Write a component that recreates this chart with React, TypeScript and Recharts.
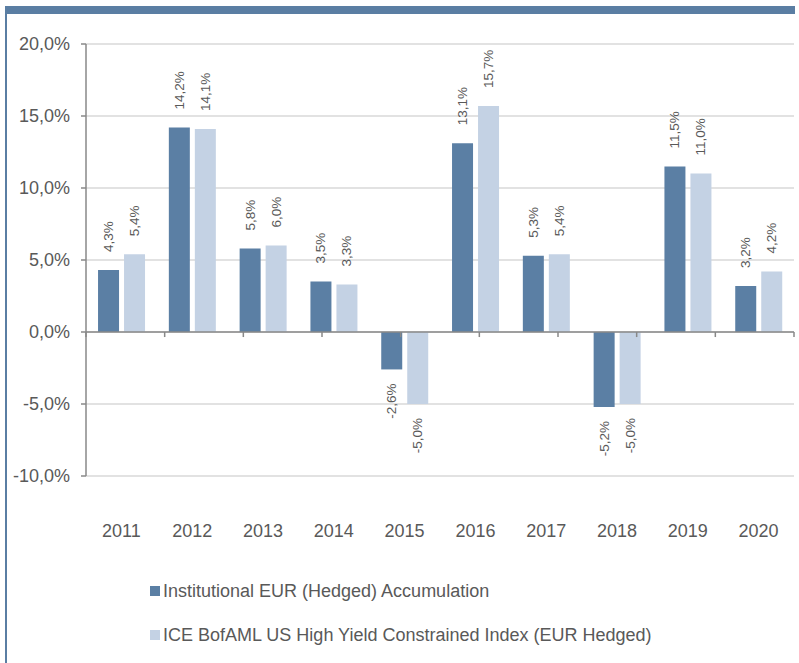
import {
  BarChart,
  Bar,
  XAxis,
  YAxis,
  CartesianGrid,
  Legend,
  LabelList,
  ReferenceLine,
} from 'recharts';

const years = ['2011', '2012', '2013', '2014', '2015', '2016', '2017', '2018', '2019', '2020'];
const fundReturns = [4.3, 14.2, 5.8, 3.5, -2.6, 13.1, 5.3, -5.2, 11.5, 3.2];
const indexReturns = [5.4, 14.1, 6.0, 3.3, -5.0, 15.7, 5.4, -5.0, 11.0, 4.2];
const yTicks = [-10, -5, 0, 5, 10, 15, 20];
const boundaries = [0, 1, 2, 3, 4, 5, 6, 7, 8, 9, 10];

const seriesNames = [
  'Institutional EUR (Hedged) Accumulation',
  'ICE BofAML US High Yield Constrained Index (EUR Hedged)',
];

const DARK = '#5b7fa4';
const LIGHT = '#c4d2e4';
const TEXT = '#595959';
const FONT = '"Liberation Sans", Arial, sans-serif';

const data = years.map((year, i) => ({
  year,
  fund: fundReturns[i],
  index: indexReturns[i],
}));

const fmt = (v: number) => v.toFixed(1).replace('.', ',') + '%';

function BarLabel(props: any) {
  const { x, y, width, height, value } = props;
  const top = Math.min(y, y + height);
  const bottom = Math.max(y, y + height);
  const cx = x + width / 2;
  const neg = value < 0;
  const ty = neg ? bottom + 14 : top - 18;
  return (
    <text
      x={cx}
      y={ty}
      transform={`rotate(-90 ${cx} ${ty})`}
      textAnchor={neg ? 'end' : 'start'}
      dominantBaseline="central"
      fontSize={13.5}
      fill={TEXT}
      fontFamily={FONT}
    >
      {fmt(value)}
    </text>
  );
}

function LegendBox() {
  const colors = [DARK, LIGHT];
  return (
    <div style={{ fontFamily: FONT, fontSize: 18, color: TEXT }}>
      {seriesNames.map((name, i) => (
        <div
          key={name}
          style={{ display: 'flex', alignItems: 'center', height: 44 }}
        >
          <span
            style={{
              display: 'inline-block',
              width: 10,
              height: 10,
              background: colors[i],
              marginRight: 3,
            }}
          />
          <span>{name}</span>
        </div>
      ))}
    </div>
  );
}

export default function App() {
  return (
    <div style={{ position: 'absolute', left: 0, top: 0, width: 799, height: 663, background: '#fff' }}>
      <div style={{ position: 'absolute', left: 6, top: 6, width: 789, height: 8, background: '#5a7ea3' }} />
      <div style={{ position: 'absolute', left: 5, top: 6, width: 2, height: 657, background: '#5a7ea3' }} />
      <BarChart
        width={799}
        height={663}
        data={data}
        margin={{ top: 44, right: 5, left: 0, bottom: 0 }}
        barCategoryGap="17%"
        barGap={5}
        style={{ position: 'absolute', left: 0, top: 0 }}
      >
        <CartesianGrid vertical={false} stroke="#d9d9d9" strokeWidth={1.5} />
        <XAxis
          dataKey="year"
          axisLine={false}
          tickLine={false}
          tickSize={0}
          tickMargin={48}
          height={99}
          interval={0}
          tick={{ fontSize: 18, fill: TEXT, fontFamily: FONT }}
        />
        <XAxis xAxisId="num" type="number" domain={[0, 10]} hide />
        <YAxis
          domain={[-10, 20]}
          ticks={yTicks}
          width={86}
          tickFormatter={fmt}
          stroke="#888"
          strokeWidth={1.5}
          tickSize={5}
          tickMargin={11}
          tick={{ fontSize: 18, fill: TEXT, fontFamily: FONT }}
        />
        <ReferenceLine y={0} stroke="#888" strokeWidth={1.5} ifOverflow="extendDomain" />
        {boundaries.map((b) => (
          <ReferenceLine
            key={b}
            xAxisId="num"
            segment={[
              { x: b, y: 0 },
              { x: b, y: -0.35 },
            ]}
            stroke="#888"
            strokeWidth={1.5}
          />
        ))}
        <Bar dataKey="fund" name={seriesNames[0]} fill={DARK} isAnimationActive={false}>
          <LabelList dataKey="fund" content={BarLabel} />
        </Bar>
        <Bar dataKey="index" name={seriesNames[1]} fill={LIGHT} isAnimationActive={false}>
          <LabelList dataKey="index" content={BarLabel} />
        </Bar>
        <Legend
          content={LegendBox}
          verticalAlign="bottom"
          align="left"
          wrapperStyle={{ left: 150, bottom: 6, width: 640 }}
        />
      </BarChart>
    </div>
  );
}
